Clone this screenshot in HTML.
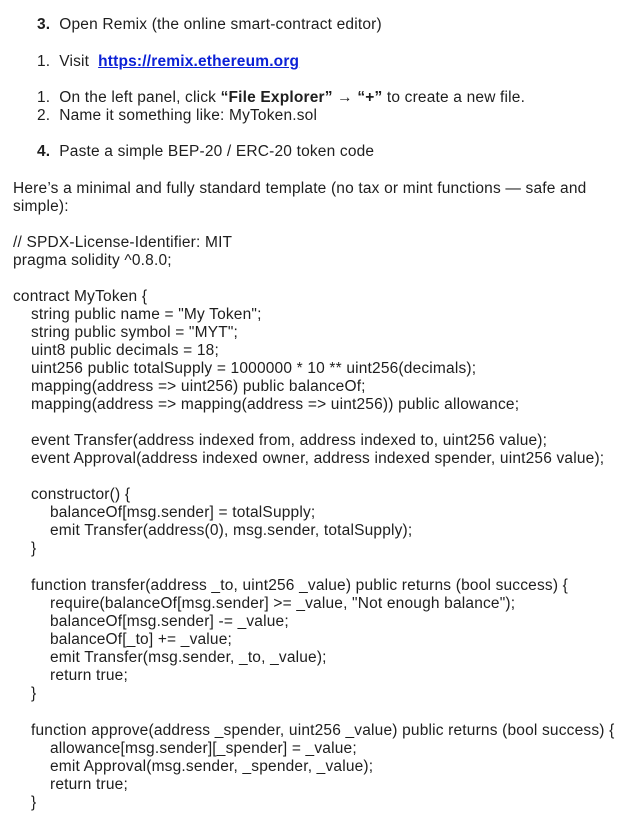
<!DOCTYPE html>
<html><head><meta charset="utf-8"><style>
body{margin:0;width:630px;height:829px;background:#fff;position:relative;overflow:hidden;font-family:"Liberation Sans","DejaVu Sans",sans-serif;font-size:15.5px;letter-spacing:0.18px;color:#1e1e1e}
.l{position:absolute;white-space:pre;line-height:18px;height:18px}
b{font-weight:bold}
a{color:#0b20d6;font-weight:bold;text-decoration:underline}
</style></head><body>
<div class="l" style="left:37px;top:16px"><b>3.</b>  Open Remix (the online smart-contract editor)</div>
<div class="l" style="left:37px;top:53px">1.  Visit  <a>https://remix.ethereum.org</a></div>
<div class="l" style="left:37px;top:89px">1.  On the left panel, click <b>“File Explorer”</b> → <b>“+”</b> to create a new file.</div>
<div class="l" style="left:37px;top:107px">2.  Name it something like: MyToken.sol</div>
<div class="l" style="left:37px;top:143px"><b>4.</b>  Paste a simple BEP-20 / ERC-20 token code</div>
<div class="l" style="left:13px;top:180px">Here’s a minimal and fully standard template (no tax or mint functions — safe and</div>
<div class="l" style="left:13px;top:198px">simple):</div>
<div class="l" style="left:13px;top:234px">// SPDX-License-Identifier: MIT</div>
<div class="l" style="left:13px;top:252px">pragma solidity ^0.8.0;</div>
<div class="l" style="left:13px;top:288px">contract MyToken {</div>
<div class="l" style="left:31px;top:306px">string public name = "My Token";</div>
<div class="l" style="left:31px;top:324px">string public symbol = "MYT";</div>
<div class="l" style="left:31px;top:342px">uint8 public decimals = 18;</div>
<div class="l" style="left:31px;top:360px">uint256 public totalSupply = 1000000 * 10 ** uint256(decimals);</div>
<div class="l" style="left:31px;top:378px">mapping(address => uint256) public balanceOf;</div>
<div class="l" style="left:31px;top:396px">mapping(address => mapping(address => uint256)) public allowance;</div>
<div class="l" style="left:31px;top:432px">event Transfer(address indexed from, address indexed to, uint256 value);</div>
<div class="l" style="left:31px;top:450px">event Approval(address indexed owner, address indexed spender, uint256 value);</div>
<div class="l" style="left:31px;top:486px">constructor() {</div>
<div class="l" style="left:50px;top:504px">balanceOf[msg.sender] = totalSupply;</div>
<div class="l" style="left:50px;top:522px">emit Transfer(address(0), msg.sender, totalSupply);</div>
<div class="l" style="left:31px;top:540px">}</div>
<div class="l" style="left:31px;top:577px">function transfer(address _to, uint256 _value) public returns (bool success) {</div>
<div class="l" style="left:50px;top:595px">require(balanceOf[msg.sender] >= _value, "Not enough balance");</div>
<div class="l" style="left:50px;top:613px">balanceOf[msg.sender] -= _value;</div>
<div class="l" style="left:50px;top:631px">balanceOf[_to] += _value;</div>
<div class="l" style="left:50px;top:649px">emit Transfer(msg.sender, _to, _value);</div>
<div class="l" style="left:50px;top:667px">return true;</div>
<div class="l" style="left:31px;top:685px">}</div>
<div class="l" style="left:31px;top:722px">function approve(address _spender, uint256 _value) public returns (bool success) {</div>
<div class="l" style="left:50px;top:740px">allowance[msg.sender][_spender] = _value;</div>
<div class="l" style="left:50px;top:758px">emit Approval(msg.sender, _spender, _value);</div>
<div class="l" style="left:50px;top:776px">return true;</div>
<div class="l" style="left:31px;top:794px">}</div>
</body></html>
